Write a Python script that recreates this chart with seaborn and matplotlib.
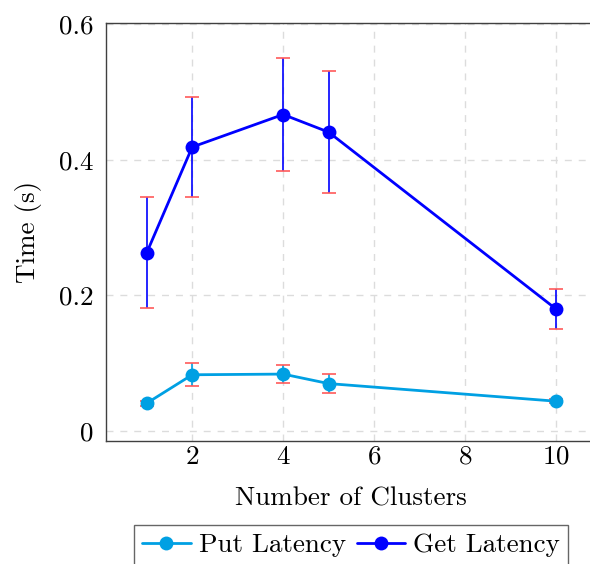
import matplotlib
matplotlib.use("Agg")
import matplotlib.pyplot as plt
import seaborn as sns

# Data
clusters = [1, 2, 4, 5, 10]
put_latency = [0.041, 0.083, 0.084, 0.070, 0.044]
put_err = [0.004, 0.017, 0.013, 0.0145, 0.003]
get_latency = [0.263, 0.419, 0.467, 0.441, 0.180]
get_err = [0.082, 0.074, 0.083, 0.090, 0.029]

put_color = '#00a0e3'
get_color = '#0000ff'
cap_color = '#ff5a5a'

sns.set_style("white")
plt.rcParams['font.family'] = ['cmr10', 'DejaVu Serif']
plt.rcParams['mathtext.fontset'] = 'cm'
plt.rcParams['axes.formatter.use_mathtext'] = True
plt.rcParams['font.size'] = 19.5
plt.rcParams['text.color'] = 'black'
plt.rcParams['axes.labelcolor'] = 'black'
plt.rcParams['xtick.labelcolor'] = 'black'
plt.rcParams['ytick.labelcolor'] = 'black'

fig = plt.figure(figsize=(5.9, 5.64), dpi=100)
ax = fig.add_axes([0.1793, 0.2186, 0.8325, 0.7406])

# error bars first so lines/markers sit on top
for y, e, c in [(put_latency, put_err, put_color), (get_latency, get_err, get_color)]:
    _, caps, bars = ax.errorbar(clusters, y, yerr=e, fmt='none', ecolor=c,
                                elinewidth=1.2, capsize=5, capthick=1.2, zorder=2)
    for cap in caps:
        cap.set_markeredgecolor(cap_color)
        cap.set_color(cap_color)

sns.lineplot(x=clusters, y=put_latency, ax=ax, color=put_color, marker='o',
             markersize=10, markeredgewidth=0, linewidth=2, label='Put Latency', zorder=3)
sns.lineplot(x=clusters, y=get_latency, ax=ax, color=get_color, marker='o',
             markersize=10, markeredgewidth=0, linewidth=2, label='Get Latency', zorder=3)

ax.set_xlim(0.1, 10.9)
ax.set_ylim(-0.0143, 0.602)
ax.set_xticks([2, 4, 6, 8, 10])
ax.set_yticks([0, 0.2, 0.4, 0.6])
ax.set_yticklabels(['0', '0.2', '0.4', '0.6'])
ax.grid(True, color='#dcdcdc', linestyle=(0, (5, 5)), linewidth=1)
ax.tick_params(direction='in', length=4, color='#bbbbbb')
ax.tick_params(axis='x', pad=3)
ax.tick_params(axis='y', pad=9)
for s in ax.spines.values():
    s.set_color('#404040')
    s.set_linewidth(1.0)

ax.set_xlabel('Number of Clusters', labelpad=13)
ax.set_ylabel('Time (s)', labelpad=12)

handles, labels = ax.get_legend_handles_labels()
ax.legend_.remove()
leg = fig.legend(handles, labels, loc='upper center', bbox_to_anchor=(0.595, 0.069),
                 ncol=2, frameon=True, fancybox=False, edgecolor='#404040',
                 handlelength=1.8, handletextpad=0.3, columnspacing=0.4,
                 borderpad=0.3, borderaxespad=0, fontsize=19.5)
leg.get_frame().set_linewidth(1.0)

fig.savefig('out.png', dpi=100)
